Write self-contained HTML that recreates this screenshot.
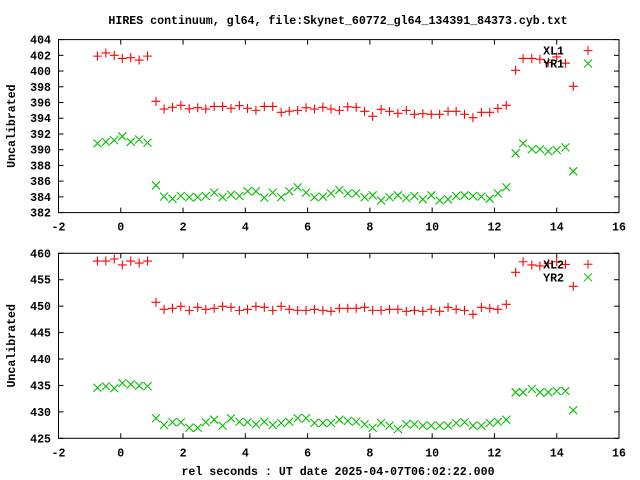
<!DOCTYPE html>
<html><head><meta charset="utf-8"><style>
html,body{margin:0;padding:0;background:#fff;}
svg{display:block;}
text{font-family:"Liberation Mono","DejaVu Sans Mono",monospace;font-weight:bold;font-size:11.6px;fill:#000;}
</style></head><body>
<svg id="chart" width="640" height="480" viewBox="0 0 640 480" xmlns="http://www.w3.org/2000/svg">
<rect width="640" height="480" fill="#fff"/>
<text x="338" y="24" text-anchor="middle">HIRES continuum, gl64, file:Skynet_60772_gl64_134391_84373.cyb.txt</text>
<text x="338" y="475" text-anchor="middle">rel seconds : UT date 2025-04-07T06:02:22.000</text>
<g id="g"></g>
</svg>
<script>
const xVals=[-0.75,-0.48,-0.21,0.05,0.32,0.59,0.86,1.13,1.39,1.66,1.93,2.20,2.47,2.73,3.00,3.27,3.54,3.81,4.07,4.34,4.61,4.88,5.15,5.41,5.68,5.95,6.22,6.49,6.75,7.02,7.29,7.56,7.83,8.09,8.36,8.63,8.90,9.17,9.43,9.70,9.97,10.24,10.51,10.77,11.04,11.31,11.58,11.85,12.11,12.38,12.68,12.92,13.20,13.46,13.73,14.00,14.28,14.53];
const xl1=[401.9,402.3,402.0,401.6,401.7,401.4,401.9,
396.15,395.17,395.39,395.64,395.2,395.34,395.17,395.5,395.5,395.26,395.6,395.26,395.0,395.5,395.5,394.75,394.9,395.0,395.34,395.17,395.39,395.17,395.0,395.45,
395.39,394.88,394.24,395.13,394.88,394.63,395.0,394.5,394.58,394.5,394.5,394.88,394.88,394.5,394.07,394.75,394.75,395.26,395.64,
400.1,401.6,401.6,401.5,401.1,401.8,401.0,398.06];
const yr1=[390.8,391.0,391.2,391.7,391.0,391.3,390.9,
385.47,384.03,383.77,384.11,383.95,383.95,384.11,384.54,383.95,384.28,384.11,384.71,384.71,383.9,384.54,383.95,384.71,385.22,384.54,383.95,384.03,384.45,384.88,384.45,
384.45,383.95,384.2,383.54,383.95,384.2,383.86,384.11,383.69,384.2,383.54,383.69,384.11,384.2,384.11,384.03,383.77,384.45,385.22,
389.54,390.8,390.05,390.05,389.8,389.96,390.3,387.25];
const xl2=[458.54,458.54,458.92,457.79,458.54,458.16,458.54,
450.73,449.4,449.6,449.97,449.2,449.78,449.4,449.6,449.97,449.78,449.2,449.4,449.97,449.78,449.2,449.97,449.4,449.2,449.2,449.4,449.2,449.03,449.6,449.6,
449.6,449.78,449.2,449.2,449.4,449.4,449.03,449.2,449.03,449.4,449.03,449.78,449.4,449.2,448.46,449.78,449.6,449.4,450.35,
456.4,458.4,457.79,457.6,458.1,458.4,457.9,453.76];
const yr2=[434.57,434.84,434.46,435.46,435.2,434.95,434.84,
428.79,427.52,428.03,428.03,427.0,427.0,428.03,428.52,427.39,428.79,428.14,428.03,427.65,428.14,427.52,427.9,428.14,428.79,428.79,427.9,427.9,427.9,428.52,428.28,
428.14,427.65,427.0,427.9,427.39,426.76,427.65,427.65,427.39,427.39,427.39,427.39,427.9,428.03,427.39,427.39,427.9,428.14,428.52,
433.7,433.7,434.33,433.7,433.7,433.95,433.95,430.3];
const xTicks=[-2,0,2,4,6,8,10,12,14,16];
const yTicks1=[382,384,386,388,390,392,394,396,398,400,402,404];
const yTicks2=[425,430,435,440,445,450,455,460];

const NS="http://www.w3.org/2000/svg";
const g=document.getElementById('g');
const L=58.5,R=619;
const xs=v=>L+(v+2)/18*(R-L);
function mk(tag,attrs){const e=document.createElementNS(NS,tag);for(const k in attrs)e.setAttribute(k,attrs[k]);g.appendChild(e);return e;}
function panel(top,bot,ymin,ymax,yt,s1,s2,n1,n2,pfx){
  const ys=v=>bot-(v-ymin)/(ymax-ymin)*(bot-top);
  yt.forEach(t=>{
    const y=ys(t);
    const a=mk('line',{x1:L,x2:L+5,y1:y,y2:y,stroke:'#000'});
    
    
    const b=mk('line',{x1:R-5,x2:R,y1:y,y2:y,stroke:'#000'});
    
    
    const tx=mk('text',{x:51,y:y+4,'text-anchor':'end'});tx.textContent=t;
    
    
  });
  xTicks.forEach(t=>{
    const x=xs(t);
    const a=mk('line',{x1:x,x2:x,y1:bot,y2:bot-5,stroke:'#000'});
    
    
    const b=mk('line',{x1:x,x2:x,y1:top,y2:top+5,stroke:'#000'});
    
    
    const tx=mk('text',{x:x,y:bot+18,'text-anchor':'middle'});tx.textContent=t;
    
    
  });
  const yl=mk('text',{x:0,y:0,'text-anchor':'middle',transform:'translate(15,'+((top+bot)/2)+') rotate(-90)'});
  yl.textContent='Uncalibrated';
  
  
  function plus(x,y,c){return 'M'+(x-4.5)+' '+y+'h9M'+x+' '+(y-4.5)+'v9';}
  function cross(x,y){return 'M'+(x-4)+' '+(y-4)+'l8 8M'+(x-4)+' '+(y+4)+'l8 -8';}
  let d1='',d2='';
  xVals.forEach((xv,i)=>{d1+=plus(xs(xv),ys(s1[i]));d2+=cross(xs(xv),ys(s2[i]));});
  const p2=mk('path',{d:d2,stroke:'#00c000',fill:'none','stroke-width':1.1});
  
  
  const p1=mk('path',{d:d1,stroke:'#ff0000',fill:'none','stroke-width':1.1});
  
  
  const ly=top+11;
  const t1=mk('text',{x:564,y:ly+4,'text-anchor':'end'});t1.textContent=n1;
  
  
  const m1=mk('path',{d:plus(588,ly),stroke:'#ff0000',fill:'none'});
  
  
  const t2=mk('text',{x:564,y:ly+17,'text-anchor':'end'});t2.textContent=n2;
  
  
  const m2=mk('path',{d:cross(588,ly+13),stroke:'#00c000',fill:'none'});
  
  
  const fr=mk('rect',{x:L,y:top,width:R-L,height:bot-top,fill:'none',stroke:'#000'});
  
  
}
panel(39.6,212.6,382,404,yTicks1,xl1,yr1,'XL1','YR1','top');
panel(253.3,438.3,425,460,yTicks2,xl2,yr2,'XL2','YR2','bottom');
</script>
</body></html>
